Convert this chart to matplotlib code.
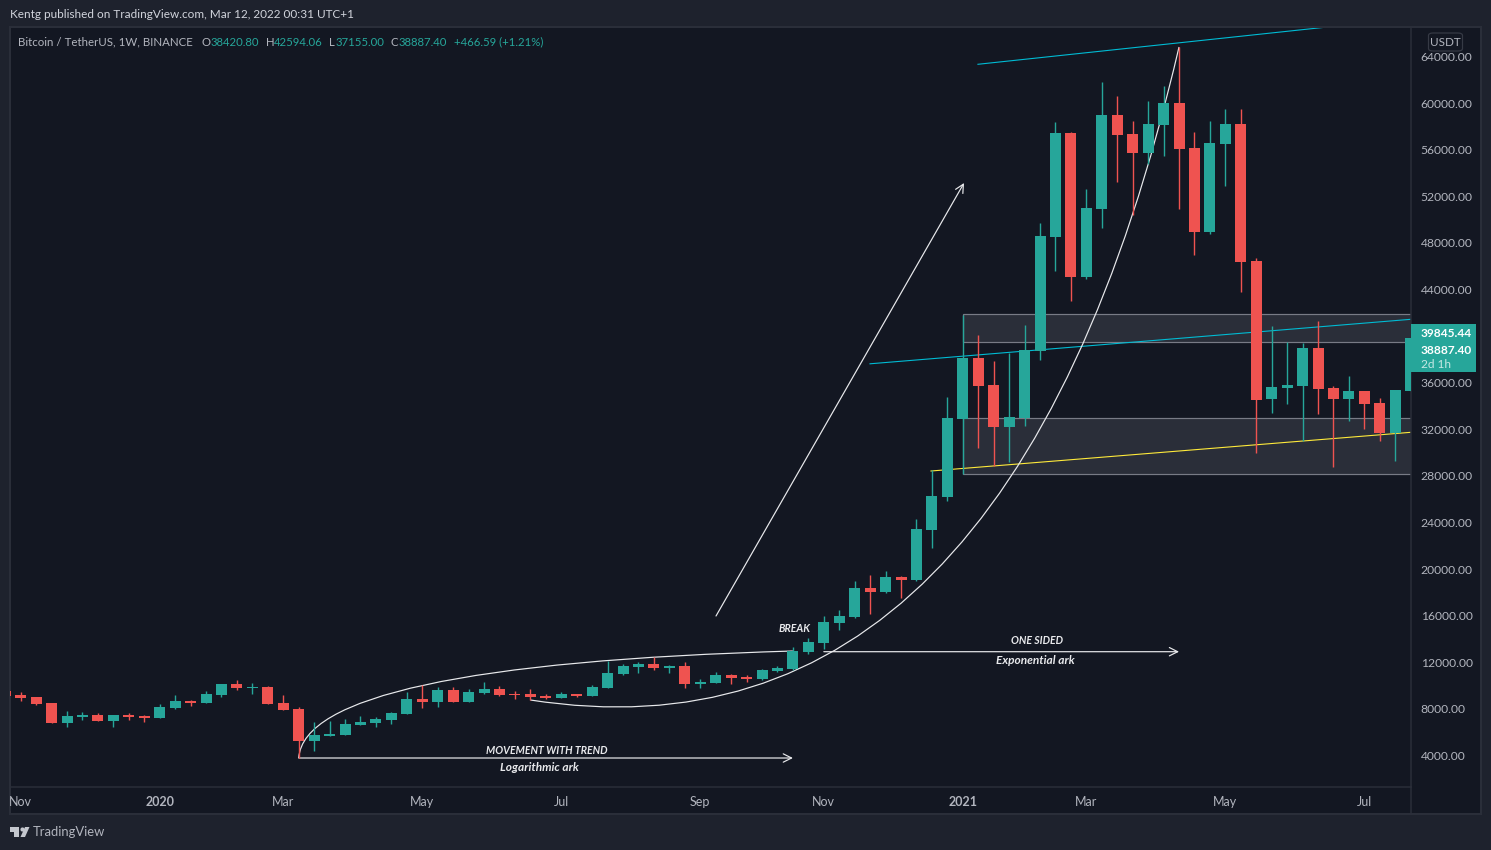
"""Bitcoin / TetherUS weekly candles with the hand drawn arcs, boxes and trend lines."""

import matplotlib
matplotlib.use("Agg")
import matplotlib.pyplot as plt
import numpy as np
from matplotlib.lines import Line2D
from matplotlib.patches import FancyBboxPatch, PathPatch, Polygon, Rectangle
from matplotlib.path import Path
from matplotlib.transforms import blended_transform_factory

# -- Data ----------------------------------------------------------------------
# weekly candles, the first one is cut off by the left edge of the chart
opens = [9537, 9193, 9022, 8506, 6790, 7305, 7476, 6961, 7476, 7391,
         7219, 8077, 8678, 8506, 9193, 10137, 9794, 9880, 8506, 7991,
         5245, 5674, 5760, 6618, 6790, 7047, 7562, 8850, 8592, 9622,
         8592, 9365, 9708, 9279, 9279, 9107, 8936, 9279, 9107, 9794,
         10996, 11597, 11854, 11511, 11683, 10137, 10223, 10910, 10738, 10567,
         11253, 11425, 12884, 13657, 15374, 15889, 18378, 18035, 19322, 19065,
         23357, 26190, 32885, 38121, 35803, 32198, 32971, 38722, 48508, 57435,
         45074, 50911, 58980, 57350, 55718, 58122, 60011, 56147, 48937, 56490,
         58208, 46448, 34602, 35545, 35717, 38980, 35545, 34602, 35288, 34258,
         31684, 35288]
highs = [9600, 9451, 9022, 8506, 7820, 7734, 7648, 7476, 7648, 7476,
         8421, 9193, 8764, 9537, 10137, 10481, 10223, 9966, 9193, 8163,
         6876, 6961, 7133, 7391, 7305, 7734, 9451, 10052, 9880, 9880,
         9708, 10309, 9966, 9537, 9708, 9279, 9451, 9279, 10052, 12112,
         11854, 12026, 12455, 11768, 12026, 10567, 11168, 10996, 10910, 11425,
         11683, 13314, 14086, 15975, 16490, 18979, 19494, 19837, 19408, 24301,
         28507, 34774, 41812, 40096, 37864, 38552, 40954, 49710, 58380, 57520,
         52628, 61813, 60611, 58466, 60182, 61470, 64818, 57521, 58466, 59495,
         59495, 46706, 40868, 39495, 39410, 41298, 35717, 36576, 35288, 34688,
         35374, 39845]
lows = [9000, 8678, 8335, 6790, 6446, 7047, 6961, 6446, 7047, 6876,
        7219, 7991, 8249, 8506, 9022, 9622, 9279, 8421, 7906, 3785,
        4386, 5674, 5760, 6618, 6446, 6704, 7562, 8077, 8163, 8592,
        8592, 9279, 9107, 8850, 8764, 8850, 8936, 9022, 9107, 9794,
        10910, 11082, 11339, 11082, 9794, 9794, 10223, 10137, 10309, 10481,
        11168, 11339, 12713, 13142, 14773, 15803, 16146, 17949, 17520, 18979,
        21812, 25846, 28163, 30397, 28851, 29194, 32284, 37950, 45590, 43014,
        44903, 49280, 53229, 50396, 54774, 55461, 50911, 46963, 48765, 52886,
        43787, 29966, 33400, 34172, 31000, 33314, 28765, 32713, 32027, 31000,
        29280, 35288]
closes = [9107, 8936, 8421, 6790, 7391, 7476, 6961, 7476, 7305, 7219,
          8163, 8678, 8506, 9279, 10137, 9794, 9880, 8421, 7906, 5245,
          5760, 5845, 6704, 6876, 7133, 7648, 8850, 8592, 9622, 8592,
          9451, 9708, 9193, 9193, 9022, 8936, 9279, 9107, 9880, 11082,
          11683, 11854, 11511, 11683, 10137, 10309, 10910, 10652, 10567, 11339,
          11511, 12970, 13743, 15460, 15975, 18378, 18035, 19322, 19065, 23443,
          26275, 32971, 38121, 35717, 32198, 33057, 38808, 48594, 57435, 45074,
          50997, 58980, 57264, 55718, 58208, 60011, 56061, 48937, 56576, 58208,
          46362, 34516, 35632, 35803, 38980, 35460, 34602, 35288, 34172, 31684,
          35374, 39845]

price_ticks = [4000, 8000, 12000, 16000, 20000, 24000, 28000, 32000, 36000,
               44000, 48000, 52000, 56000, 60000, 64000]
month_ticks = [0, 9, 17, 26, 35, 44, 52, 61, 69, 78, 87]
month_labels = ["Nov", "2020", "Mar", "May", "Jul", "Sep", "Nov", "2021", "Mar", "May", "Jul"]

# drawings, (week, price)
box_upper = (61, 39469, 41873)
box_lower = (61, 28137, 32945)
cyan_top = [(61.98, 63333), (90.02, 67299)]
cyan_mid = [(54.99, 37623), (90.02, 41444)]
yellow_line = [(58.94, 28421), (90.02, 31744)]
log_arc = [(18, 3785), (18.41, 11768), (50, 12970)]
exp_arc = [(33, 8764), (64.05, 2326), (75, 64818)]
trend_arrow = [(45.02, 15975), (61.08, 53143)]
log_arrow = [(18, 3785), (50, 3785)]
exp_arrow = [(52, 12910), (75, 12910)]
notes = [("MOVEMENT WITH TREND", 34.08, 4472), ("Logarithmic ark", 33.6, 2927),
         ("BREAK", 50.1, 14860), ("ONE SIDED", 65.8, 13914), ("Exponential ark", 65.67, 12197)]

# -- Style ---------------------------------------------------------------------
W, H = 1491, 850
BG_OUTER = "#1e222d"
BG_CHART = "#131722"
BORDER = "#2a2e39"
TEXT = "#b2b5be"
UP = "#26a69a"
DOWN = "#ef5350"
WHITE = "#e8e9ec"
PX = 0.72  # one pixel in points
FONT = "Lato"

plt.rcParams["font.family"] = FONT


def fx(x):
    return x / W


def fy(y):
    return 1 - y / H


fig = plt.figure(figsize=(W / 100, H / 100), dpi=100, facecolor=BG_OUTER)

# chart frame, the price and time scales live inside it
fig.add_artist(Rectangle((fx(10), fy(814)), fx(1471), 787 / H, transform=fig.transFigure,
                         fc=BG_CHART, ec=BORDER, lw=2 * PX, zorder=-5))
fig.add_artist(Line2D([fx(1411), fx(1411)], [fy(787), fy(814)], color=BORDER, lw=1.5 * PX))

ax = fig.add_axes([fx(10), fy(787), fx(1401), 759 / H], facecolor="none")
ax.set_xlim(-0.693, 90.02)
ax.set_ylim(1296, 66448)
for name in ("top", "left"):
    ax.spines[name].set_visible(False)
for name in ("bottom", "right"):
    ax.spines[name].set_color(BORDER)
    ax.spines[name].set_linewidth(1.5 * PX)

# -- Drawings (under the candles) ----------------------------------------------
for left, low, high in (box_upper, box_lower):
    ax.add_patch(Rectangle((left, low), 40, high - low, fc=BORDER, ec="#787b86",
                           lw=1.2 * PX, zorder=1))

for pts, col in ((cyan_top, "#00bcd4"), (cyan_mid, "#00bcd4"), (yellow_line, "#ffeb3b")):
    ax.plot(*zip(*pts), color=col, lw=1.1 * PX, zorder=1.5)

for pts in (log_arc, exp_arc):
    ax.add_patch(PathPatch(Path(pts, [Path.MOVETO, Path.CURVE3, Path.CURVE3]),
                           fc="none", ec=WHITE, lw=1.2 * PX, zorder=1.5))

for pts in (trend_arrow, log_arrow, exp_arrow):
    ax.annotate("", xy=pts[1], xytext=pts[0], zorder=1.5,
                arrowprops=dict(arrowstyle="->,head_length=0.6,head_width=0.3", color=WHITE,
                                lw=1.2 * PX, shrinkA=0, shrinkB=0, mutation_scale=10))

for label, week, price in notes:
    ax.text(week, price, label, color=WHITE, fontsize=7.6 if label.isupper() else 8.6,
            style="italic", weight="bold", ha="center", va="center", zorder=5)

# -- Candles -------------------------------------------------------------------
weeks = np.arange(len(opens)) - 1
o, h, l, c = map(np.array, (opens, highs, lows, closes))
colors = [UP if b >= a else DOWN for a, b in zip(o, c)]
ax.vlines(weeks, l, h, colors=colors, lw=1.4 * PX, zorder=3)
ax.bar(weeks, np.abs(c - o), bottom=np.minimum(o, c), width=0.71, color=colors, lw=0, zorder=4)

# -- Axes ----------------------------------------------------------------------
ax.yaxis.tick_right()
ax.set_yticks(price_ticks, [f"{p:.2f}" for p in price_ticks])
ax.tick_params(axis="y", length=0, pad=7, labelcolor=TEXT, labelsize=8.7)
ax.set_xticks(month_ticks, month_labels)
ax.tick_params(axis="x", length=0, pad=6.7, labelcolor=TEXT, labelsize=9)
for tick in ax.get_xticklabels():
    if tick.get_text().startswith("20"):
        tick.set_fontweight("bold")

# -- Price labels on the scale -------------------------------------------------
trans = blended_transform_factory(ax.transAxes, ax.transData)
label_w = 65 / 1401
text_x = 1 + 10 / 1401
ax.add_patch(Rectangle((1, 36946), label_w, 41040 - 36946, transform=trans, fc=UP, lw=0,
                       clip_on=False, zorder=6))
ax.text(text_x, 40267, "39845.44", transform=trans, color="white", fontsize=8.6, weight="bold",
        va="center", zorder=7)
ax.text(text_x, 38730, "38887.40", transform=trans, color="white", fontsize=8.6, weight="bold",
        va="center", zorder=7)
ax.text(text_x, 37606, "2d 1h", transform=trans, color="#c5e8e4", fontsize=8.6, va="center", zorder=7)

fig.add_artist(FancyBboxPatch((fx(1428.5), fy(51)), 34 / W, 18 / H, transform=fig.transFigure,
                              boxstyle="round,pad=0,rounding_size=0.003", fc=BG_CHART, ec="#363a45",
                              lw=1.2 * PX, zorder=8))
fig.text(fx(1445.5), fy(42.5), "USDT", color=TEXT, fontsize=8.4, ha="center", va="center", zorder=9)

# -- Header --------------------------------------------------------------------
fig.text(fx(10), fy(14), "Kentg published on TradingView.com, Mar 12, 2022 00:31 UTC+1",
         color="#d1d4dc", fontsize=8.5, va="center")
fig.text(fx(18), fy(42), "Bitcoin / TetherUS, 1W, BINANCE", color=TEXT, fontsize=8.3, va="center")
legend_parts = [("O", 202, TEXT), ("38420.80", 210.5, UP), ("H", 266, TEXT), ("42594.06", 274, UP),
                ("L", 329, TEXT), ("37155.00", 336, UP), ("C", 391, TEXT), ("38887.40", 398.5, UP),
                ("+466.59 (+1.21%)", 454, UP)]
for label, x, col in legend_parts:
    fig.text(fx(x), fy(42), label, color=col, fontsize=8.2, va="center")

# -- Footer logo ---------------------------------------------------------------
logo_col = "#c4c7ce"
fig.add_artist(Polygon([(fx(10), fy(827)), (fx(18.5), fy(827)), (fx(18.5), fy(837)), (fx(14), fy(837)),
                        (fx(14), fy(831.5)), (fx(10), fy(831.5))],
                       transform=fig.transFigure, fc=logo_col, lw=0))
fig.add_artist(Polygon([(fx(25), fy(827)), (fx(29.5), fy(827)), (fx(25), fy(837)), (fx(20.5), fy(837))],
                       transform=fig.transFigure, fc=logo_col, lw=0))
fig.add_artist(Line2D([fx(21.5)], [fy(829.3)], marker="o", ms=3, mew=0, mfc=logo_col, ls="none"))
fig.text(fx(33), fy(832.5), "TradingView", color=TEXT, fontsize=9.4, va="center")

fig.savefig("out.png", dpi=100, facecolor=BG_OUTER)
